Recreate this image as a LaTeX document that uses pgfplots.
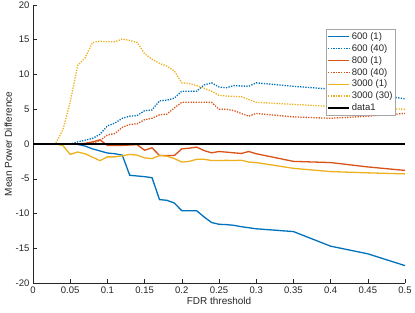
\documentclass[border=0pt]{standalone}
\usepackage{fontspec}
\setmainfont{Liberation Sans}
\usepackage{pgfplots}
\usepackage{pgfplotstable}
\pgfplotsset{compat=1.18}
\usetikzlibrary{calc}
\definecolor{mblue}{rgb}{0,0.447,0.741}
\definecolor{morange}{rgb}{0.850,0.325,0.098}
\definecolor{myellow}{rgb}{0.929,0.694,0.125}
\definecolor{axgray}{rgb}{0.15,0.15,0.15}

\pgfplotstableread{
x     s600a  s600b  s800a  s800b  s3000a  s3000b  zero
0     0      0      0      0      0       0       0
0.01  0      0      0      0      0       0       0
0.02  0      0      0      0      0       0       0
0.03  0      0      0      0      0       0       0
0.04  0      0      0      0      -0.2    2.0     0
0.05  0      0      0      0      -1.5    6.0     0
0.06  -0.05  0.3    0      0      -1.15   11.3    0
0.07  -0.3   0.55   0.1    0      -1.4    12.4    0
0.08  -0.7   0.8    0.3    0.1    -1.9    14.6    0
0.09  -1.0   1.4    0.6    0.5    -2.4    14.8    0
0.1   -1.3   2.6    -0.2   1.3    -1.85   14.7    0
0.11  -1.4   3.0    -0.2   1.5    -1.85   14.7    0
0.12  -1.6   3.7    -0.2   2.4    -1.7    15.1    0
0.13  -4.5   4.0    -0.15  2.8    -1.5    14.9    0
0.14  -4.6   4.1    -0.1   2.9    -1.6    14.6    0
0.15  -4.7   4.8    -0.9   3.5    -2.0    13.0    0
0.16  -4.85  4.9    -0.55  3.7    -2.1    12.2    0
0.17  -8.0   6.2    -1.65  4.2    -1.66   11.6    0
0.18  -8.1   6.3    -1.65  4.3    -1.75   11.2    0
0.19  -8.5   6.6    -1.65  5.2    -2.1    10.5    0
0.2   -9.6   7.6    -0.7   6.0    -2.6    8.8     0
0.21  -9.6   7.6    -0.6   6.0    -2.5    8.7     0
0.22  -9.6   7.6    -0.45  6.0    -2.2    8.4     0
0.23  -10.5  8.5    -0.95  6.0    -2.2    8.0     0
0.24  -11.3  8.8    -1.27  6.0    -2.38   7.6     0
0.25  -11.55 8.2    -1.08  5.0    -2.38   7.0     0
0.26  -11.6  8.1    -1.17  5.0    -2.35   6.9     0
0.27  -11.7  8.4    -1.27  4.8    -2.38   6.85    0
0.28  -11.9  8.35   -1.36  4.4    -2.33   6.8     0
0.29  -12.05 8.3    -1.08  4.0    -2.6    6.4     0
0.3   -12.2  8.8    -1.4   4.4    -2.67   6.0     0
0.35  -12.6  8.3    -2.5   3.9    -3.5    5.7     0
0.4   -14.7  7.9    -2.67  3.7    -3.97   5.4     0
0.45  -15.8  7.3    -3.3   4.0    -4.15   5.2     0
0.5   -17.5  6.5    -3.8   4.4    -4.3    5.0     0
}\data

\begin{document}
\begin{tikzpicture}
\begin{axis}[
  name=ax,
  scale only axis,
  width=372pt, height=278pt,
  xmin=0, xmax=0.5, ymin=-20, ymax=20,
  axis lines=left,
  axis line style={-, axgray, line width=0.5pt},
  tick style={axgray, line width=0.5pt},
  tick align=inside,
  major tick length=4pt,
  xtick={0,0.05,0.1,0.15,0.2,0.25,0.3,0.35,0.4,0.45,0.5},
  xticklabels={0,0.05,0.1,0.15,0.2,0.25,0.3,0.35,0.4,0.45,0.5},
  ytick={-20,-15,-10,-5,0,5,10,15,20},
  yticklabels={-20,-15,-10,-5,0,5,10,15,20},
  tick label style={font=\fontsize{9.5}{11}\selectfont, text=axgray},
  label style={font=\fontsize{10}{12}\selectfont, text=axgray},
  xlabel={FDR threshold},
  ylabel={Mean Power Difference},
  xlabel style={yshift=3pt},
  ylabel style={yshift=-3pt},
  legend cell align=left,
  legend style={at={(0.975,0.9126)}, anchor=north east, draw=black!35, fill=white,
    font=\fontsize{9.5}{11}\selectfont, text=axgray, inner sep=1pt, row sep=-0.5pt},
  legend image code/.code={\draw[#1] (0pt,0pt) -- (21pt,0pt);},
  every axis plot/.append style={line width=1.3pt},
]
\addplot[mblue] table[x=x,y=s600a] {\data};
\addlegendentry{600 (1)}
\addplot[mblue, dash pattern=on 1.3pt off 1.3pt] table[x=x,y=s600b] {\data};
\addlegendentry{600 (40)}
\addplot[morange] table[x=x,y=s800a] {\data};
\addlegendentry{800 (1)}
\addplot[morange, dash pattern=on 1.3pt off 1.3pt] table[x=x,y=s800b] {\data};
\addlegendentry{800 (40)}
\addplot[myellow] table[x=x,y=s3000a] {\data};
\addlegendentry{3000 (1)}
\addplot[myellow, dash pattern=on 1.3pt off 1.3pt] table[x=x,y=s3000b] {\data};
\addlegendentry{3000 (30)}
\addplot[black, line width=1.5pt] table[x=x,y=zero] {\data};
\addlegendentry{data1}
\end{axis}
\pgfresetboundingbox
\path[use as bounding box] ($(ax.south west)+(-33pt,-29pt)$) rectangle ($(ax.north east)+(10pt,5pt)$);
\end{tikzpicture}
\end{document}
